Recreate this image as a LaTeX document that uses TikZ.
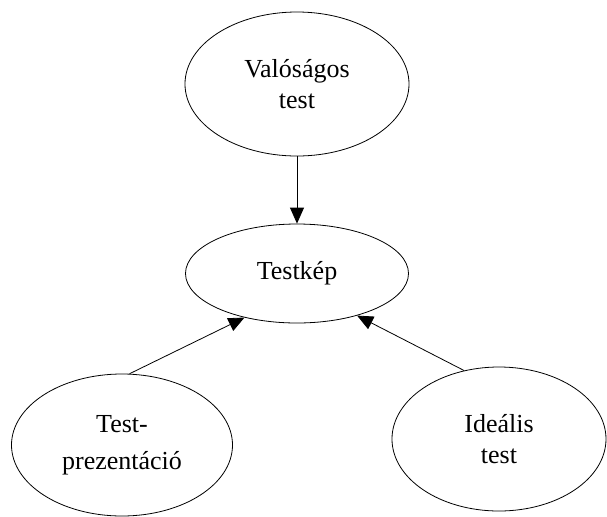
\documentclass[tikz,border=0pt]{standalone}
\usepackage{fontspec}
\setmainfont{Liberation Serif}
\usepackage{xcolor}
\usepackage{tikz}
\usetikzlibrary{shapes.geometric, arrows.meta}

\begin{document}
\begin{tikzpicture}[x = 0.5pt, y = -0.5pt, >={Triangle[length=8pt, width=7pt]}]
            \tikzstyle{blob} = [ellipse, draw=black, inner sep=0pt, align=center, font=\fontsize{13pt}{15.5pt}\selectfont];
            \useasboundingbox (0, 0) rectangle (607, 516);

            \node [blob, minimum width = 112pt, minimum height = 72pt] (real) at (297, 84) {Valóságos\\test};
            \node [blob, minimum width = 111.5pt, minimum height = 49.5pt] (image) at (297, 273.5) {Testkép};
            \node [blob, minimum width = 110.5pt, minimum height = 71pt] (present) at (122, 445) {Test-\\[3pt]prezentáció};
            \node [blob, minimum width = 107pt, minimum height = 72pt] (ideal) at (499, 439) {Ideális\\test};

            \draw [->] (real.south) to (image.north);
            \draw [->] (present.84) to (image.220);
            \draw [->] (ideal.117) to (image.325);
        \end{tikzpicture}
\end{document}
